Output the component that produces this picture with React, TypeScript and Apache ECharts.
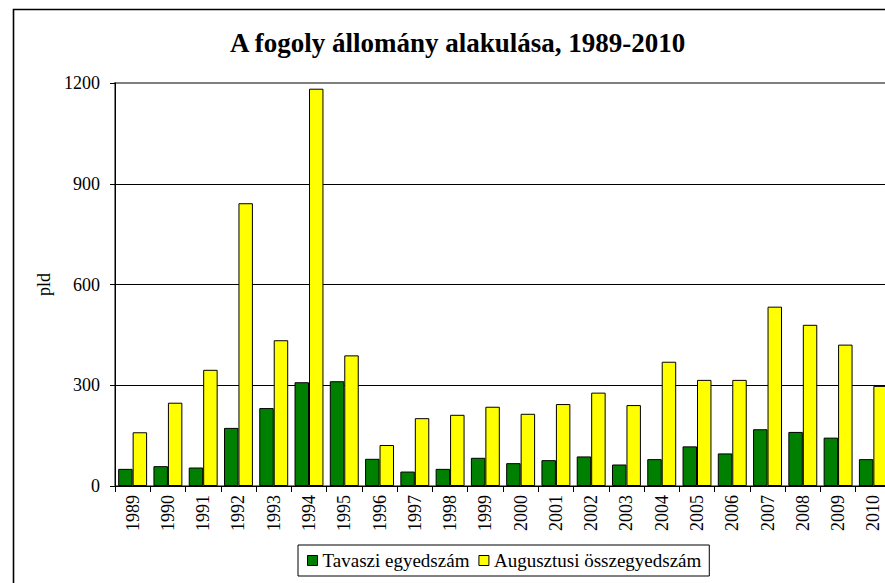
import React, { useEffect, useRef } from "react";
import * as echarts from "echarts";

const years = ["1989","1990","1991","1992","1993","1994","1995","1996","1997","1998","1999","2000","2001","2002","2003","2004","2005","2006","2007","2008","2009","2010"];
const springCount = [51, 59, 55, 173, 232, 309, 312, 81, 43, 51, 84, 68, 77, 88, 64, 80, 118, 97, 169, 161, 144, 80];
const augustCount = [160, 248, 346, 842, 434, 1183, 389, 122, 202, 212, 236, 215, 244, 278, 241, 370, 316, 316, 534, 480, 421, 298];
const seriesNames = ["Tavaszi egyedszám", "Augusztusi összegyedszám"];
const titleText = "A fogoly állomány alakulása, 1989-2010";
const yAxisName = "pld";

const FONT = "'Liberation Serif', 'Times New Roman', serif";

export default function App() {
  const ref = useRef<HTMLDivElement>(null);
  useEffect(() => {
    if (!ref.current) return;
    const chart = echarts.init(ref.current, null, { renderer: "svg" });
    chart.setOption({
      animation: false,
      backgroundColor: "#ffffff",
      textStyle: { fontFamily: FONT, color: "#000" },
      title: {
        text: titleText,
        left: 230,
        top: 29,
        padding: 0,
        textStyle: { fontFamily: FONT, fontSize: 27, fontWeight: "bold", color: "#000" },
      },
      graphic: [
        {
          type: "rect",
          shape: { x: 13.5, y: 9.5, width: 1000, height: 1000 },
          style: { fill: "none", stroke: "#000", lineWidth: 1.6 },
          silent: true,
          z: 100,
        },
      ],
      legend: {
        left: 298,
        top: 545,
        padding: [6, 8, 6, 9],
        itemGap: 9,
        itemWidth: 10,
        itemHeight: 10,
        icon: "rect",
        borderColor: "#000",
        borderWidth: 1,
        itemStyle: { borderColor: "#000", borderWidth: 1 },
        data: seriesNames,
        textStyle: { fontFamily: FONT, fontSize: 19, color: "#000" },
      },
      grid: {
        left: 115,
        top: 83,
        width: 776,
        height: 403,
        show: true,
        borderColor: "#808080",
        borderWidth: 2,
        backgroundColor: "transparent",
      },
      xAxis: {
        type: "category",
        data: years,
        axisLine: { lineStyle: { color: "#000", width: 1 } },
        axisTick: { show: true, length: 6, lineStyle: { color: "#000" } },
        axisLabel: {
          rotate: 90,
          fontFamily: FONT,
          fontSize: 18,
          color: "#000",
          margin: 9,
          interval: 0,
        },
      },
      yAxis: {
        type: "value",
        min: 0,
        max: 1200,
        interval: 300,
        name: yAxisName,
        nameLocation: "middle",
        nameGap: 60,
        nameTextStyle: { fontFamily: FONT, fontSize: 18, color: "#000" },
        axisLine: { show: true, lineStyle: { color: "#000", width: 1 } },
        axisTick: { show: true, length: 5, lineStyle: { color: "#000" } },
        axisLabel: {
          fontFamily: FONT,
          fontSize: 18,
          color: "#000",
          margin: 15,
          formatter: (v: number) => String(v),
        },
        splitLine: { show: true, showMaxLine: false, lineStyle: { color: "#000", width: 1 } },
      },
      series: [
        {
          name: seriesNames[0],
          type: "bar",
          data: springCount,
          barGap: "0%",
          barCategoryGap: "18%",
          itemStyle: { color: "#008000", borderColor: "#000", borderWidth: 1 },
        },
        {
          name: seriesNames[1],
          type: "bar",
          data: augustCount,
          barGap: "0%",
          barCategoryGap: "18%",
          itemStyle: { color: "#ffff00", borderColor: "#000", borderWidth: 1 },
        },
      ],
    });
    return () => chart.dispose();
  }, []);
  return (
    <div
      style={{ position: "absolute", left: 0, top: 0, width: 885, height: 583, overflow: "hidden" }}
    >
      <div ref={ref} style={{ width: 905, height: 583 }} />
    </div>
  );
}
